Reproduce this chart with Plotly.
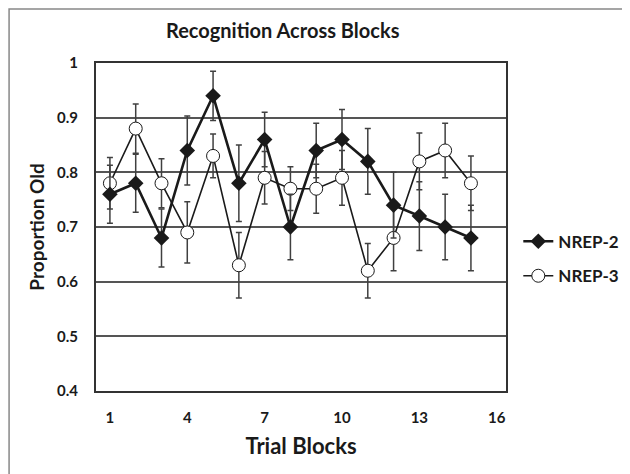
import plotly.graph_objects as go

# Trial blocks and proportion "old" responses per condition
blocks = list(range(1, 16))
nrep2 = [0.76, 0.78, 0.68, 0.84, 0.94, 0.78, 0.86, 0.70, 0.84, 0.86, 0.82, 0.74, 0.72, 0.70, 0.68]
nrep2_err = [0.053, 0.053, 0.053, 0.063, 0.045, 0.07, 0.05, 0.06, 0.05, 0.055, 0.06, 0.06, 0.063, 0.06, 0.06]
nrep3 = [0.78, 0.88, 0.78, 0.69, 0.83, 0.63, 0.79, 0.77, 0.77, 0.79, 0.62, 0.68, 0.82, 0.84, 0.78]
nrep3_err = [0.047, 0.045, 0.045, 0.056, 0.04, 0.06, 0.048, 0.04, 0.045, 0.05, 0.05, 0.06, 0.052, 0.05, 0.05]

x_ticks = [1, 4, 7, 10, 13, 16]
y_ticks = [0.4, 0.5, 0.6, 0.7, 0.8, 0.9, 1.0]

FONT = 'Lato, "Open Sans", Arial, sans-serif'
INK = '#1a1a1a'
ERR = '#404040'

fig = go.Figure()

fig.add_trace(go.Scatter(
    name='NREP-3', x=blocks, y=nrep3, mode='lines+markers',
    line=dict(color=INK, width=1.6),
    marker=dict(symbol='circle', size=13, color='white', line=dict(color=INK, width=1)),
    error_y=dict(type='data', array=nrep3_err, color=ERR, thickness=1.5, width=3),
    legend='legend2'
))

fig.add_trace(go.Scatter(
    name='NREP-2', x=blocks, y=nrep2, mode='lines+markers',
    line=dict(color=INK, width=2.6),
    marker=dict(symbol='diamond', size=12, color=INK),
    error_y=dict(type='data', array=nrep2_err, color=ERR, thickness=1.5, width=3),
    legend='legend'
))

# page body adds ~8px offset, so margins are shifted to compensate
fig.update_layout(
    width=630, height=474,
    margin=dict(l=88, r=132, t=55, b=91),
    paper_bgcolor='white', plot_bgcolor='white',
    font=dict(family=FONT, color=INK),
    showlegend=True,
    legend=dict(x=1.03, y=0.455, xanchor='left', yanchor='middle',
                font=dict(size=17, family=FONT, color=INK, weight='bold'),
                bgcolor='rgba(0,0,0,0)'),
    legend2=dict(x=1.03, y=0.35, xanchor='left', yanchor='middle',
                 font=dict(size=17, family=FONT, color=INK, weight='bold'),
                 bgcolor='rgba(0,0,0,0)'),
)

fig.update_xaxes(
    range=[0.46, 16.36], tickmode='array', tickvals=x_ticks,
    showgrid=False, zeroline=False,
    showline=True, mirror=True, linecolor='#333333', linewidth=2,
    ticks='', ticklabelstandoff=12,
    tickfont=dict(size=15, family=FONT, color=INK, weight='bold'),
    title=dict(text='<b>Trial Blocks</b>', font=dict(size=22, family=FONT, color=INK), standoff=14)
)

fig.update_yaxes(
    range=[0.4, 1.0], tickmode='array', tickvals=y_ticks,
    ticktext=['0.4', '0.5', '0.6', '0.7', '0.8', '0.9', '1'],
    showgrid=True, gridcolor='#555555', gridwidth=1.5, zeroline=False,
    showline=True, mirror=True, linecolor='#333333', linewidth=2,
    ticks='', ticklabelstandoff=13,
    tickfont=dict(size=15, family=FONT, color=INK, weight='bold'),
    title=dict(text='<b>Proportion Old</b>', font=dict(size=19, family=FONT, color=INK), standoff=7)
)

fig.add_annotation(
    text='<b>Recognition Across Blocks</b>', xref='paper', yref='paper',
    x=0.456, y=1.1, xanchor='center', yanchor='middle', showarrow=False,
    font=dict(size=20, family=FONT, color=INK)
)

# outer chart border
fig.add_shape(type='rect', xref='paper', yref='paper',
              x0=-0.212, x1=1.31, y0=-0.29, y1=1.165,
              line=dict(color='#888888', width=1.5))

fig.write_html("out.html")
